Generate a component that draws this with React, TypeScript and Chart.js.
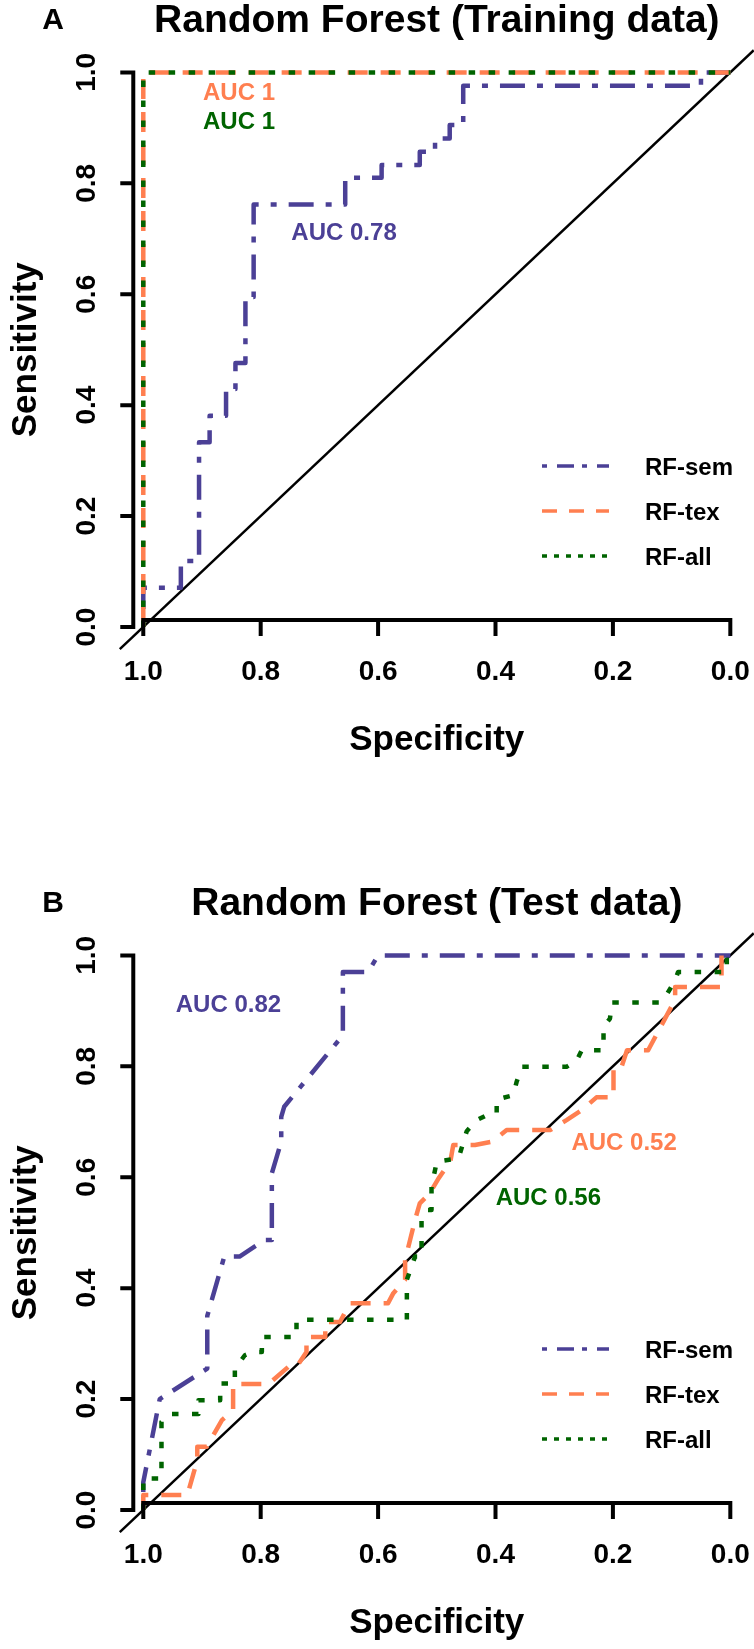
import React, { useEffect, useRef } from "react";
import { Chart, registerables } from "chart.js";

Chart.register(...registerables);

const FONT = '"Liberation Sans", Arial, Helvetica, sans-serif';

// ---------------- data ----------------
const seriesNames = ["RF-sem", "RF-tex", "RF-all"];
const tickValues = [1, 0.8, 0.6, 0.4, 0.2, 0];
const tickLabels = ["1.0", "0.8", "0.6", "0.4", "0.2", "0.0"];

// Panel A: training data
const trainSemSpec = [1, 1, 0.936, 0.936, 0.905, 0.905, 0.887, 0.887, 0.859, 0.859, 0.843, 0.843, 0.826, 0.826, 0.812, 0.812, 0.656, 0.656, 0.594, 0.594, 0.529, 0.529, 0.503, 0.503, 0.478, 0.478, 0.455, 0.455, 0.05, 0.05, 0];
const trainSemSens = [0, 0.071, 0.071, 0.119, 0.119, 0.333, 0.333, 0.381, 0.381, 0.429, 0.429, 0.476, 0.476, 0.595, 0.595, 0.762, 0.762, 0.81, 0.81, 0.833, 0.833, 0.857, 0.857, 0.881, 0.881, 0.905, 0.905, 0.976, 0.976, 1, 1];
const trainTexSpec = [1, 1, 0];
const trainTexSens = [0, 1, 1];
const trainAllSpec = [1, 1, 0];
const trainAllSens = [0, 1, 1];
const trainAucLabels = ["AUC 0.78", "AUC 1", "AUC 1"];

// Panel B: test data
const testSemSpec = [1, 1, 0.972, 0.891, 0.891, 0.862, 0.836, 0.793, 0.781, 0.781, 0.765, 0.765, 0.76, 0.66, 0.66, 0.617, 0.6, 0];
const testSemSens = [0, 0.05, 0.2, 0.255, 0.35, 0.457, 0.457, 0.487, 0.487, 0.607, 0.664, 0.709, 0.727, 0.856, 0.97, 0.97, 1, 1];
const testTexSpec = [1, 1, 0.925, 0.908, 0.908, 0.892, 0.866, 0.847, 0.847, 0.787, 0.753, 0.739, 0.722, 0.722, 0.69, 0.69, 0.665, 0.648, 0.583, 0.574, 0.554, 0.554, 0.537, 0.529, 0.512, 0.497, 0.477, 0.472, 0.435, 0.406, 0.381, 0.307, 0.279, 0.253, 0.228, 0.199, 0.199, 0.185, 0.176, 0.14, 0.094, 0.094, 0.015, 0.015, 0];
const testTexSens = [0, 0.027, 0.027, 0.09, 0.114, 0.114, 0.162, 0.18, 0.227, 0.227, 0.258, 0.258, 0.285, 0.312, 0.312, 0.339, 0.339, 0.373, 0.373, 0.391, 0.415, 0.451, 0.523, 0.553, 0.571, 0.598, 0.628, 0.658, 0.658, 0.664, 0.685, 0.685, 0.703, 0.721, 0.744, 0.744, 0.8, 0.8, 0.829, 0.829, 0.92, 0.943, 0.943, 1, 1];
const testAllSpec = [1, 1, 0.969, 0.969, 0.955, 0.906, 0.906, 0.869, 0.869, 0.844, 0.844, 0.827, 0.813, 0.798, 0.798, 0.739, 0.739, 0.551, 0.551, 0.537, 0.526, 0.526, 0.517, 0.509, 0.509, 0.5, 0.463, 0.449, 0.432, 0.409, 0.398, 0.398, 0.37, 0.364, 0.355, 0.279, 0.262, 0.253, 0.216, 0.216, 0.205, 0.202, 0.12, 0.108, 0.094, 0.089, 0.006, 0.006, 0];
const testAllSens = [0, 0.057, 0.057, 0.159, 0.173, 0.173, 0.198, 0.198, 0.228, 0.228, 0.255, 0.279, 0.285, 0.285, 0.312, 0.312, 0.343, 0.343, 0.415, 0.457, 0.457, 0.523, 0.541, 0.541, 0.583, 0.628, 0.634, 0.683, 0.703, 0.715, 0.715, 0.74, 0.748, 0.772, 0.799, 0.799, 0.81, 0.829, 0.829, 0.871, 0.886, 0.915, 0.915, 0.93, 0.955, 0.97, 0.97, 1, 1];
const testAucLabels = ["AUC 0.82", "AUC 0.52", "AUC 0.56"];

// reference (chance) line
const diagSpec = [1.04, -0.04];
const diagSens = [-0.04, 1.04];

// ---------------- styles ----------------
const COLORS = ["#4B4096", "#FF7F50", "#006400"];
const PLOT_DASH = [[6, 12, 25, 12], [20, 13], [6.5, 13.5]];
const LEGEND_DASH = [[5, 10, 17, 8], [15, 12], [5, 7]];
const W = 754;

type PanelProps = {
  letter: string;
  title: string;
  spec: number[][];
  sens: number[][];
  aucLabels: string[];
  aucAt: number[][];
  top: number;
  height: number;
};

const pts = (xs: number[], ys: number[]) => xs.map((v, i) => ({ x: v, y: ys[i] }));

function makeDecor(p: PanelProps) {
  return {
    id: "rocDecor",
    afterDatasetsDraw(chart: any) {
      const ctx: CanvasRenderingContext2D = chart.ctx;
      const xs = chart.scales.x;
      const ys = chart.scales.y;
      const px = (v: number) => xs.getPixelForValue(v);
      const py = (v: number) => ys.getPixelForValue(v);

      const text = (s: string, x: number, y: number, size: number, color: string, align: CanvasTextAlign = "center", rot = 0) => {
        ctx.save();
        ctx.translate(x, y);
        if (rot) ctx.rotate(rot);
        ctx.font = `bold ${size}px ${FONT}`;
        ctx.fillStyle = color;
        ctx.textAlign = align;
        ctx.textBaseline = "alphabetic";
        ctx.fillText(s, 0, size * 0.358);
        ctx.restore();
      };

      ctx.save();
      ctx.setLineDash([]);
      ctx.strokeStyle = "#000";
      ctx.lineWidth = 4;
      ctx.lineCap = "square";
      // y axis
      const ax = px(1) - 10;
      ctx.beginPath();
      ctx.moveTo(ax, py(0));
      ctx.lineTo(ax, py(1));
      for (const v of tickValues) {
        ctx.moveTo(ax, py(v));
        ctx.lineTo(ax - 11, py(v));
      }
      ctx.stroke();
      // x axis
      const ay = py(0) - 7;
      ctx.beginPath();
      ctx.moveTo(px(1), ay);
      ctx.lineTo(px(0), ay);
      for (const v of tickValues) {
        ctx.moveTo(px(v), ay);
        ctx.lineTo(px(v), ay + 14);
      }
      ctx.stroke();
      ctx.restore();

      tickValues.forEach((v, i) => {
        text(tickLabels[i], px(v), ay + 50, 28, "#000");
        text(tickLabels[i], ax - 48, py(v), 28, "#000", "center", -Math.PI / 2);
      });
      const cx = (px(1) + px(0)) / 2;
      text("Specificity", cx, py(0) + 110, 35, "#000");
      text("Sensitivity", 23, (py(0) + py(1)) / 2, 35, "#000", "center", -Math.PI / 2);
      text(p.title, cx, 18, 39, "#000");
      text(p.letter, 53, 18, 30, "#000");

      p.aucLabels.forEach((s, i) => {
        text(s, px(p.aucAt[i][0]), py(p.aucAt[i][1]), 24, COLORS[i]);
      });

      // legend
      seriesNames.forEach((name, i) => {
        const y = py(0) - 161 + 45 * i;
        ctx.save();
        ctx.strokeStyle = COLORS[i];
        ctx.lineWidth = 3.3;
        ctx.lineCap = "butt";
        ctx.setLineDash(LEGEND_DASH[i]);
        ctx.beginPath();
        ctx.moveTo(542, y);
        ctx.lineTo(609, y);
        ctx.stroke();
        ctx.restore();
        text(name, 645, y, 24, "#000", "left");
      });
    },
  };
}

function RocPanel(p: PanelProps) {
  const ref = useRef<HTMLCanvasElement | null>(null);
  useEffect(() => {
    if (!ref.current) return;
    const datasets: any[] = [
      {
        label: "chance",
        data: pts(diagSpec, diagSens),
        showLine: true,
        borderColor: "#000",
        borderWidth: 2.5,
        pointRadius: 0,
        order: 4,
        clip: false,
      },
    ];
    seriesNames.forEach((name, i) => {
      datasets.push({
        label: name,
        data: pts(p.spec[i], p.sens[i]),
        showLine: true,
        borderColor: COLORS[i],
        borderWidth: 4.5,
        borderDash: PLOT_DASH[i],
        borderCapStyle: "butt",
        borderJoinStyle: "round",
        pointRadius: 0,
        tension: 0,
        order: 3 - i,
        clip: false,
      });
    });
    const chart = new Chart(ref.current, {
      type: "scatter",
      data: { datasets },
      options: {
        responsive: false,
        maintainAspectRatio: false,
        animation: false,
        devicePixelRatio: 1,
        events: [],
        layout: { padding: { left: 119.8, right: 0.2, top: 50.2, bottom: p.height - 649.2 } },
        scales: {
          x: { type: "linear", reverse: true, min: -0.04, max: 1.04, display: false },
          y: { type: "linear", min: -0.04, max: 1.04, display: false },
        },
        plugins: { legend: { display: false }, tooltip: { enabled: false } },
      },
      plugins: [makeDecor(p)],
    } as any);
    return () => chart.destroy();
  }, []);
  return (
    <canvas
      ref={ref}
      width={W}
      height={p.height}
      style={{ position: "absolute", left: 0, top: p.top, width: W, height: p.height }}
    />
  );
}

export default function App() {
  return (
    <div style={{ position: "absolute", left: 0, top: 0, width: W, height: 1649, background: "#fff" }}>
      <RocPanel
        letter="A"
        title="Random Forest (Training data)"
        spec={[trainSemSpec, trainTexSpec, trainAllSpec]}
        sens={[trainSemSens, trainTexSens, trainAllSens]}
        aucLabels={trainAucLabels}
        aucAt={[[0.658, 0.713], [0.837, 0.965], [0.837, 0.914]]}
        top={0}
        height={883}
      />
      <RocPanel
        letter="B"
        title="Random Forest (Test data)"
        spec={[testSemSpec, testTexSpec, testAllSpec]}
        sens={[testSemSens, testTexSens, testAllSens]}
        aucLabels={testAucLabels}
        aucAt={[[0.855, 0.913], [0.181, 0.664], [0.31, 0.565]]}
        top={883}
        height={766}
      />
    </div>
  );
}
